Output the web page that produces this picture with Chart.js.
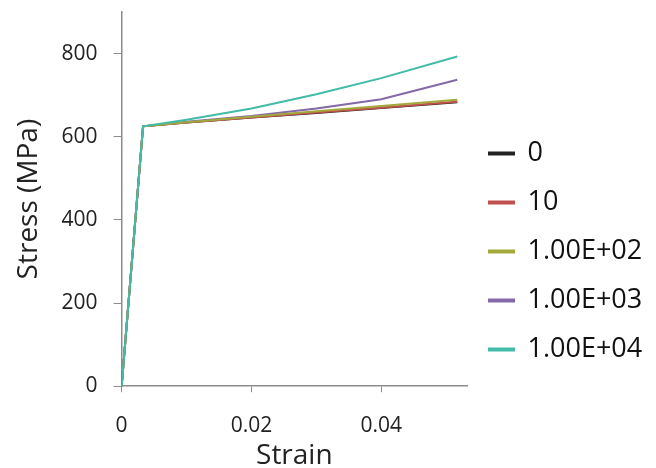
<!DOCTYPE html>
<html>
<head>
<meta charset="utf-8">
<script src="https://cdn.jsdelivr.net/npm/chart.js@4"></script>
<style>
  html, body { margin: 0; padding: 0; background: #fff; }
  #wrap { width: 656px; height: 468px; }
</style>
</head>
<body>
<div id="wrap"><canvas id="chart"></canvas></div>
<script>
// strain points shared by all series
const strain = [0, 0.0033, 0.01, 0.02, 0.03, 0.04, 0.0517];

// stress (MPa) per legend entry
const labels = ['0', '10', '1.00E+02', '1.00E+03', '1.00E+04'];
const stress0 = [0, 625, 634, 646, 657, 669, 683];
const stress10 = [0, 625, 634, 646, 658, 670, 684];
const stress1e2 = [0, 625, 635, 648, 661, 674, 689];
const stress1e3 = [0, 625, 636, 650, 668, 690, 737];
const stress1e4 = [0, 625, 641, 668, 702, 741, 793];

const yTicks = [0, 200, 400, 600, 800];
const xTicks = [0, 0.02, 0.04];

const colors = ['#222222', '#c0504d', '#a3a83a', '#8468a8', '#42bba8'];
// stacking: lower order is drawn on top
const drawOrder = [4, 3, 1, 2, 0];
const series = [stress0, stress10, stress1e2, stress1e3, stress1e4];

const FONT = '"Open Sans", "Liberation Sans", sans-serif';
const AXIS = '#8c8c8c';
const LEGEND_W = 189;

const datasets = series.map((vals, i) => ({
  label: labels[i],
  data: vals.map((v, j) => ({ x: strain[j], y: v })),
  borderColor: colors[i],
  backgroundColor: colors[i],
  borderWidth: 2,
  pointRadius: 0,
  tension: 0,
  order: drawOrder[i]
}));

// right legend is capped at a quarter of the width by the layout; widen it
const wideLegend = {
  id: 'wideLegend',
  beforeInit(chart) {
    const fit = chart.legend.fit;
    chart.legend.fit = function () {
      fit.call(this);
      this.width = LEGEND_W;
    };
  }
};

new Chart(document.getElementById('chart'), {
  type: 'line',
  data: { datasets },
  plugins: [wideLegend],
  options: {
    responsive: true,
    maintainAspectRatio: false,
    animation: false,
    layout: { padding: { top: 12, left: 12, bottom: -5, right: 0 } },
    plugins: {
      tooltip: { enabled: false },
      legend: {
        position: 'right',
        align: 'center',
        title: { display: true, text: ' ', font: { size: 10 }, padding: 3 },
        labels: {
          font: { family: FONT, size: 27 },
          color: '#111',
          boxWidth: 25,
          boxHeight: 2,
          padding: 22,
          sort: (a, b) => a.datasetIndex - b.datasetIndex
        }
      }
    },
    scales: {
      x: {
        type: 'linear',
        min: 0,
        max: 0.0532,
        afterBuildTicks: s => { s.ticks = xTicks.map(v => ({ value: v })); },
        ticks: {
          font: { family: FONT, size: 21 },
          color: '#222',
          padding: 21,
          callback: v => String(v)
        },
        grid: { drawOnChartArea: false, drawTicks: true, tickLength: 6, color: AXIS },
        border: { display: true, color: AXIS, width: 1.5 },
        title: {
          display: true,
          text: 'Strain',
          font: { family: FONT, size: 28 },
          color: '#222',
          padding: { top: -20, bottom: 0 }
        }
      },
      y: {
        type: 'linear',
        min: 0,
        max: 900,
        afterBuildTicks: s => { s.ticks = yTicks.map(v => ({ value: v })); },
        afterFit: s => { s.paddingTop = 0; },
        ticks: {
          font: { family: FONT, size: 21 },
          color: '#222',
          padding: 16
        },
        grid: { drawOnChartArea: false, drawTicks: true, tickLength: 8, color: AXIS },
        border: { display: true, color: AXIS, width: 1.5 },
        title: {
          display: true,
          text: 'Stress (MPa)',
          font: { family: FONT, size: 28 },
          color: '#222',
          padding: { top: 0, bottom: 0 }
        }
      }
    }
  }
});
</script>
</body>
</html>
